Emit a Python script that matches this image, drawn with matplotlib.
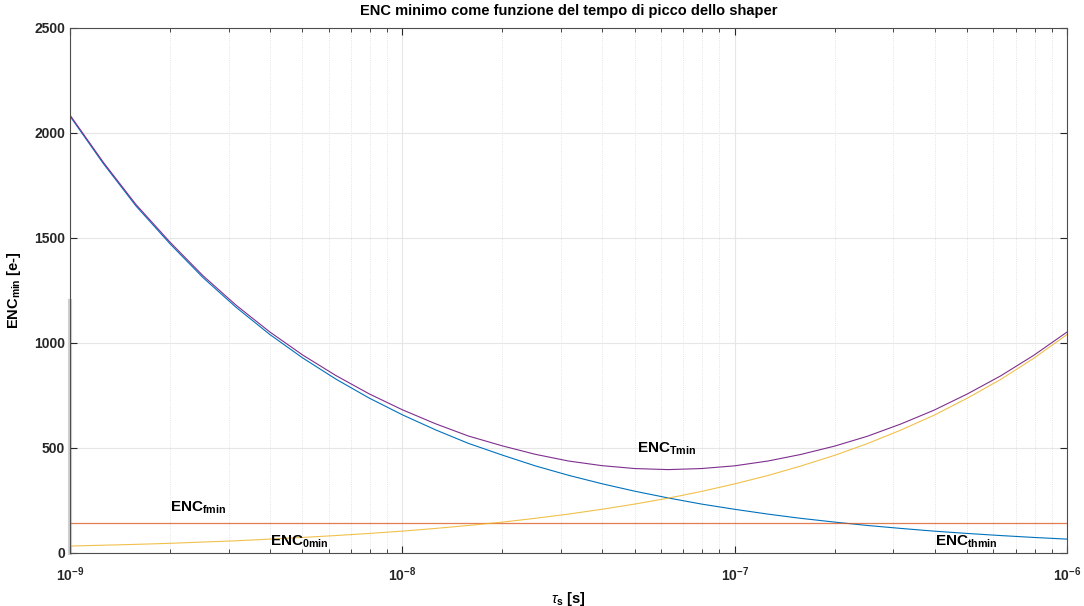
import math
import matplotlib
matplotlib.use("Agg")
import matplotlib.pyplot as plt
from matplotlib.ticker import FixedLocator, FuncFormatter, LogLocator, NullFormatter

plt.rcParams['font.family'] = ['Liberation Sans', 'DejaVu Sans']
plt.rcParams['mathtext.fontset'] = 'custom'
plt.rcParams['mathtext.rm'] = 'Liberation Sans'
plt.rcParams['mathtext.it'] = 'Liberation Sans:italic'
plt.rcParams['mathtext.bf'] = 'Liberation Sans:bold'

# shaping time samples [s]
tau = [1.00e-9, 1.26e-9, 1.58e-9, 2.00e-9, 2.51e-9, 3.16e-9, 3.98e-9, 5.01e-9, 6.31e-9, 7.94e-9,
       1.00e-8, 1.26e-8, 1.58e-8, 2.00e-8, 2.51e-8, 3.16e-8, 3.98e-8, 5.01e-8, 6.31e-8, 7.94e-8,
       1.00e-7, 1.26e-7, 1.58e-7, 2.00e-7, 2.51e-7, 3.16e-7, 3.98e-7, 5.01e-7, 6.31e-7, 7.94e-7,
       1.00e-6]

# thermal (series) noise contribution
enc_th = [2080, 1854, 1652, 1472, 1312, 1170, 1042, 929, 828, 738,
          658, 586, 522, 466, 415, 370, 330, 294, 262, 233,
          208, 185, 165, 147, 131, 117, 104, 93, 83, 74,
          66]

# parallel (shot) noise contribution
enc_0 = [33, 37, 41, 46, 52, 58, 66, 74, 83, 93,
         104, 117, 131, 147, 165, 185, 208, 233, 261, 293,
         329, 369, 414, 465, 521, 585, 656, 737, 826, 927,
         1040]

# flicker noise contribution (flat)
tau_f = [1e-9, 1e-6]
enc_f = [145, 145]

# total
enc_T = [2085, 1860, 1659, 1480, 1321, 1180, 1054, 943, 845, 758,
         682, 615, 557, 510, 470, 438, 416, 402, 397, 402,
         415, 438, 469, 509, 556, 614, 680, 757, 843, 941,
         1052]

fig = plt.figure(figsize=(10.84, 6.06), dpi=100)
ax = fig.add_axes([0.0646, 0.0875, 0.9197, 0.8663])

ax.plot(tau, enc_th, color='#0072BD', lw=0.8)
ax.plot(tau_f, enc_f, color='#D95319', lw=0.9, alpha=0.75)
ax.plot(tau, enc_0, color='#EDB120', lw=0.8, alpha=0.8)
ax.plot(tau, enc_T, color='#7E2F8E', lw=0.8)

ax.set_xscale('log')
ax.set_xlim(1e-9, 1e-6)
ax.set_ylim(0, 2500)

ax.xaxis.set_major_locator(FixedLocator([1e-9, 1e-8, 1e-7, 1e-6]))
ax.xaxis.set_minor_locator(LogLocator(base=10, subs=range(2, 10)))
ax.xaxis.set_minor_formatter(NullFormatter())
ax.xaxis.set_major_formatter(FuncFormatter(
    lambda v, p: r'$\mathbf{10^{%d}}$' % round(math.log10(v))))
ax.set_yticks([0, 500, 1000, 1500, 2000, 2500])

ax.grid(True, which='major', color='#e6e6e6', lw=0.8)
ax.grid(True, which='minor', axis='x', color='#dcdcdc', lw=0.6, ls=':')
ax.set_axisbelow(True)

ax.tick_params(which='both', direction='in', top=True, right=True, colors='#262626',
               labelsize=10)
ax.tick_params(which='major', length=5, width=0.8)
ax.tick_params(which='minor', length=3, width=0.6)
ax.tick_params(axis='x', which='major', pad=9)
for lab in ax.get_yticklabels():
    lab.set_fontweight('bold')
for s in ax.spines.values():
    s.set_color('#4d4d4d')
    s.set_linewidth(0.8)

# gray overlay artifact on the left axis
ax.plot([1e-9, 1e-9], [0, 1200], color='#d0d0d0', lw=3, clip_on=False, zorder=0.5)

ax.set_title('ENC minimo come funzione del tempo di picco dello shaper',
             fontsize=10.5, fontweight='bold', pad=9)
ax.set_xlabel(r'$\tau_{\mathbf{s}}$ [s]', fontsize=10.5, fontweight='bold', labelpad=4)
ax.set_ylabel(r'$\mathbf{ENC_{min}}$ [e-]', fontsize=10.5, fontweight='bold', labelpad=8)

ax.text(5.1e-8, 480, r'$\mathbf{ENC_{Tmin}}$', fontsize=11)
ax.text(2.0e-9, 195, r'$\mathbf{ENC_{fmin}}$', fontsize=11)
ax.text(4.0e-9, 33, r'$\mathbf{ENC_{0min}}$', fontsize=11)
ax.text(4.0e-7, 33, r'$\mathbf{ENC_{thmin}}$', fontsize=11)

fig.savefig('out.png', dpi=100)
